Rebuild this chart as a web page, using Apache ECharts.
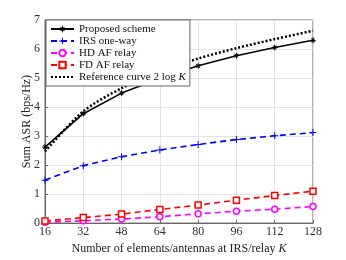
<!DOCTYPE html>
<html><head><meta charset="utf-8">
<script src="https://cdn.jsdelivr.net/npm/echarts@6/dist/echarts.min.js"></script>
<style>html,body{margin:0;padding:0;background:#fff}#c{width:346px;height:260px}</style>
</head><body><div id="c"></div>
<script>
const K = [16, 32, 48, 64, 80, 96, 112, 128];
const proposed = [2.62, 3.77, 4.48, 4.98, 5.42, 5.77, 6.05, 6.30];
const reference = [2.47, 3.85, 4.65, 5.23, 5.67, 6.03, 6.34, 6.63];
const irs = [1.48, 1.98, 2.29, 2.52, 2.71, 2.88, 3.01, 3.12];
const hd = [0.03, 0.08, 0.14, 0.22, 0.32, 0.41, 0.48, 0.57];
const fd = [0.07, 0.19, 0.31, 0.47, 0.62, 0.79, 0.95, 1.10];
const names = ['Proposed scheme', 'IRS one-way', 'HD AF relay', 'FD AF relay', 'Reference curve 2 log K'];

const pair = a => K.map((k, i) => [k, a[i]]);
const font = '"Liberation Serif", "DejaVu Serif", serif';
const plus = 'path://M-0.7,-5H0.7V-0.7H5V0.7H0.7V5H-0.7V0.7H-5V-0.7H-0.7Z';
const star = 'path://M-0.7,-5H0.7V-0.7H5V0.7H0.7V5H-0.7V0.7H-5V-0.7H-0.7Z M-3.5,-2.5L-2.5,-3.5L3.5,2.5L2.5,3.5Z M2.5,-3.5L3.5,-2.5L-2.5,3.5L-3.5,2.5Z';
const ital = { fontStyle: 'italic', fontFamily: font, fontSize: 12 };

const chart = echarts.init(document.getElementById('c'));
chart.setOption({
  animation: false,
  textStyle: { fontFamily: font },
  grid: { left: 45, right: 33, top: 20, bottom: 30, show: true, borderColor: '#666', borderWidth: 1, backgroundColor: '#fff' },
  legend: {
    orient: 'vertical', left: 46, top: 20, itemWidth: 23, itemHeight: 8, itemGap: 0, z: 20,
    backgroundColor: '#fff', borderColor: '#666', borderWidth: 1, padding: [3, 4, 3, 4],
    textStyle: { fontFamily: font, fontSize: 11, lineHeight: 12, color: '#111',
      rich: { i: { fontStyle: 'italic', fontFamily: font, fontSize: 11, lineHeight: 12 } } },
    formatter: n => n === names[4] ? 'Reference curve 2 log {i|K}' : n,
    data: names
  },
  xAxis: {
    type: 'value', min: 16, max: 128, interval: 16,
    name: 'Number of elements/antennas at IRS/relay {i|K}', nameLocation: 'middle', nameGap: 16,
    nameTextStyle: { fontFamily: font, fontSize: 12, color: '#222', rich: { i: ital } },
    axisLine: { lineStyle: { color: '#666' } },
    axisTick: { inside: true, length: 3, lineStyle: { color: '#666' } },
    axisLabel: { fontFamily: font, fontSize: 12, color: '#333', margin: 3 },
    splitLine: { show: true, lineStyle: { color: '#e3e3e3' } }
  },
  yAxis: {
    type: 'value', min: 0, max: 7, interval: 1,
    name: 'Sum ASR (bps/Hz)', nameLocation: 'middle', nameGap: 12, nameMoveOverlap: false,
    nameTextStyle: { fontFamily: font, fontSize: 12, color: '#222' },
    axisLine: { show: true, lineStyle: { color: '#666' } },
    axisTick: { show: true, inside: true, length: 3, lineStyle: { color: '#666' } },
    axisLabel: { fontFamily: font, fontSize: 12, color: '#333', margin: 5 },
    splitLine: { show: true, lineStyle: { color: '#e3e3e3' } }
  },
  series: [
    { name: names[0], type: 'line', data: pair(proposed), z: 5, symbol: star, symbolSize: 6,
      lineStyle: { color: '#000', width: 1.6 }, itemStyle: { color: '#000' } },
    { name: names[1], type: 'line', data: pair(irs), symbol: plus, symbolSize: 7,
      lineStyle: { color: '#0000ff', width: 1.6, type: [6, 4] }, itemStyle: { color: '#0000ff' } },
    { name: names[2], type: 'line', data: pair(hd), symbol: 'circle', symbolSize: 6,
      lineStyle: { color: '#ff00ff', width: 1.6, type: [6, 4] },
      itemStyle: { color: '#fff', borderColor: '#ff00ff', borderWidth: 1.5 } },
    { name: names[3], type: 'line', data: pair(fd), symbol: 'rect', symbolSize: 6,
      lineStyle: { color: '#ff0000', width: 1.6, type: [6, 4] },
      itemStyle: { color: '#fff', borderColor: '#ff0000', borderWidth: 1.5 } },
    { name: names[4], type: 'line', data: pair(reference), symbol: 'none', smooth: 0.3, z: 4,
      lineStyle: { color: '#000', width: 2.5, type: [2, 2] }, itemStyle: { color: '#000', opacity: 0 } }
  ]
});
</script></body></html>
